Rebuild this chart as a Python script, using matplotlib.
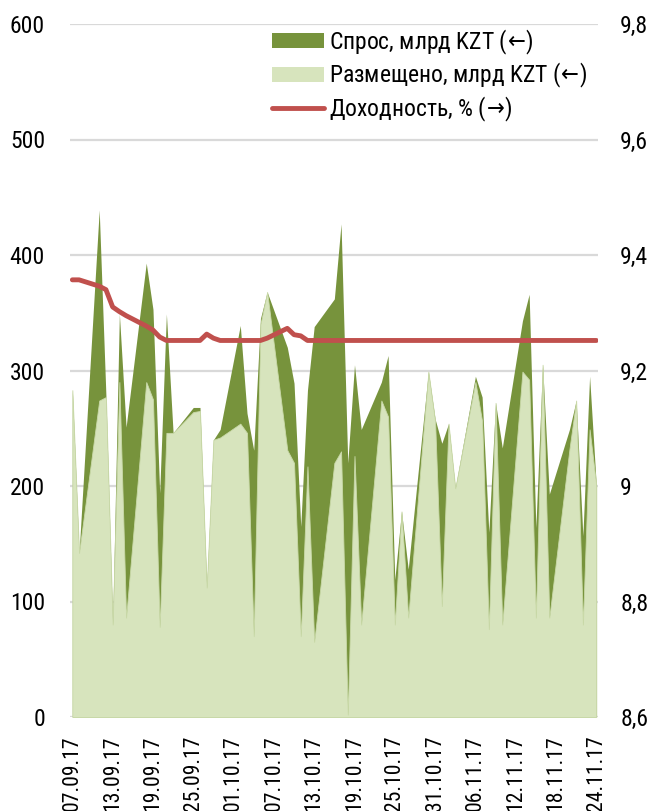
import matplotlib
matplotlib.use("Agg")
import matplotlib.pyplot as plt
import matplotlib.dates as mdates
import matplotlib.font_manager as fm
from matplotlib.ticker import FixedLocator, FuncFormatter
from matplotlib.patches import Patch
from matplotlib.lines import Line2D
from datetime import datetime, timedelta

# ---------------- data ----------------
dates = [
    "07.09.17", "08.09.17", "11.09.17", "12.09.17", "13.09.17", "14.09.17", "15.09.17",
    "18.09.17", "19.09.17", "20.09.17", "21.09.17", "22.09.17", "25.09.17", "26.09.17",
    "27.09.17", "28.09.17", "29.09.17", "02.10.17", "03.10.17", "04.10.17", "05.10.17",
    "06.10.17", "09.10.17", "10.10.17", "11.10.17", "12.10.17", "13.10.17", "16.10.17",
    "17.10.17", "18.10.17", "19.10.17", "20.10.17", "23.10.17", "24.10.17", "25.10.17",
    "26.10.17", "27.10.17", "30.10.17", "31.10.17", "01.11.17", "02.11.17", "03.11.17",
    "06.11.17", "07.11.17", "08.11.17", "09.11.17", "10.11.17", "13.11.17", "14.11.17",
    "15.11.17", "16.11.17", "17.11.17", "20.11.17", "21.11.17", "22.11.17", "23.11.17",
    "24.11.17",
]

demand = [
    283, 142, 439, 278, 80, 349, 251,
    393, 353, 194, 349, 246, 268, 268,
    112, 240, 249, 339, 263, 231, 345,
    368, 320, 289, 165, 283, 338, 362,
    427, 220, 305, 249, 290, 313, 119,
    178, 128, 299, 258, 237, 254, 198,
    295, 277, 160, 272, 233, 343, 366,
    164, 305, 193, 249, 274, 157, 295,
    200,
]

placed = [
    283, 142, 274, 277, 80, 290, 86,
    290, 275, 78, 246, 246, 264, 265,
    112, 240, 242, 254, 246, 70, 340,
    368, 231, 220, 70, 217, 65, 220,
    230, 2, 226, 80, 274, 260, 80,
    178, 86, 299, 256, 96, 254, 198,
    290, 256, 76, 272, 80, 299, 292,
    86, 305, 86, 232, 274, 80, 249,
    200,
]

yield_pct = [
    9.357, 9.357, 9.346, 9.340, 9.310, 9.302, 9.295,
    9.277, 9.270, 9.258, 9.252, 9.252, 9.252, 9.252,
    9.263, 9.256, 9.252, 9.252, 9.252, 9.252, 9.252,
    9.256, 9.273, 9.262, 9.260, 9.252, 9.252, 9.252,
    9.252, 9.252, 9.252, 9.252, 9.252, 9.252, 9.252,
    9.252, 9.252, 9.252, 9.252, 9.252, 9.252, 9.252,
    9.252, 9.252, 9.252, 9.252, 9.252, 9.252, 9.252,
    9.252, 9.252, 9.252, 9.252, 9.252, 9.252, 9.252,
    9.252,
]

legend_labels = [r"Спрос, млрд KZT ($\!\leftarrow\!$)",
                 r"Размещено, млрд KZT ($\!\leftarrow\!$)",
                 r"Доходность, % ($\!\rightarrow\!$)"]

DARK = "#77933C"
LIGHT = "#D7E4BD"
RED = "#C0504D"
GRID = "#D9D9D9"

# ---------------- font: prefer an Arial-Narrow-like face, else Liberation Sans ----------------
family = ['Liberation Sans', 'DejaVu Sans']
stretch = 'normal'
pick = None
files = [f for f in fm.fontManager.ttflist if f.style == 'normal']
for key in ('liberationsansnarrow-regular', 'arialnarrow', 'arial narrow',
            'robotocondensed-regular', 'notosans-condensed.', 'opensans-condensed.',
            'opensanscondensed-regular', 'opensans_condensed-regular'):
    for f in files:
        if key in f.fname.lower().replace(' ', '') or key in f.fname.lower():
            pick = f
            break
    if pick:
        break
if pick is not None:
    family = [pick.name, 'Liberation Sans', 'DejaVu Sans']
    stretch = pick.stretch
plt.rcParams['font.family'] = family
plt.rcParams['font.stretch'] = stretch
plt.rcParams['mathtext.fontset'] = 'dejavusans'

x = [mdates.date2num(datetime.strptime(d, "%d.%m.%y")) for d in dates]

fig = plt.figure(figsize=(6.53, 8.11), dpi=100)
renderer = fig.canvas.get_renderer()


def fit_size(s, target_px, max_pt):
    t = fig.text(0, 0, s, fontsize=10)
    w = t.get_window_extent(renderer).width
    t.remove()
    return min(max_pt, 10.0 * target_px / w)


FS_Y = fit_size("600", 37, 17)
FS_X = fit_size("07.09.17", 75, 17)
FS_L = fit_size(legend_labels[1], 280, 17)

ax = fig.add_axes([70 / 653, 94 / 811, 528 / 653, 693 / 811])

ax.fill_between(x, 0, demand, color=DARK, linewidth=0, zorder=2)
ax.fill_between(x, 0, placed, facecolor=LIGHT, edgecolor="#C9D9A8", linewidth=0.6, zorder=3)

ax.set_ylim(0, 600)
ax.set_yticks(range(0, 601, 100))
ax.set_xlim(x[0] - 0.35, x[-1] + 0.25)
ax.grid(axis="y", color=GRID, linewidth=1.6)
ax.set_axisbelow(True)
for s in ax.spines.values():
    s.set_visible(False)

start = datetime.strptime(dates[0], "%d.%m.%y")
tick_dates = [mdates.date2num(start + timedelta(days=6 * i)) for i in range(14)]
ax.xaxis.set_major_locator(FixedLocator(tick_dates))
ax.xaxis.set_major_formatter(mdates.DateFormatter("%d.%m.%y"))
ax.tick_params(axis="x", length=0, pad=13, labelsize=FS_X, rotation=90)
ax.tick_params(axis="y", length=0, pad=18, labelsize=FS_Y)

ax2 = ax.twinx()
ax2.plot(x, yield_pct, color=RED, linewidth=3.5, solid_capstyle="round",
         solid_joinstyle="round", zorder=5)
ax2.set_ylim(8.6, 9.8)
ax2.set_yticks([8.6, 8.8, 9.0, 9.2, 9.4, 9.6, 9.8])
ax2.yaxis.set_major_formatter(FuncFormatter(lambda v, p: f"{v:g}".replace(".", ",")))
ax2.tick_params(axis="y", length=0, pad=16, labelsize=FS_Y)
for s in ax2.spines.values():
    s.set_visible(False)

fs_px = FS_L * 100 / 72
handles = [
    Patch(facecolor=DARK, edgecolor="none"),
    Patch(facecolor=LIGHT, edgecolor="none"),
    Line2D([0], [0], color=RED, linewidth=3.5, solid_capstyle="round"),
]


def make_legend(spacing, top_px):
    return ax2.legend(handles, legend_labels, loc="upper left",
                      bbox_to_anchor=(272 / 653, 1 - top_px / 811), bbox_transform=fig.transFigure,
                      frameon=False, fontsize=FS_L, handlelength=52 / fs_px,
                      handleheight=0.58, handletextpad=5 / fs_px,
                      labelspacing=spacing, borderpad=0, borderaxespad=0)


spacing = 0.4
top_px = 30
for _ in range(3):
    leg = make_legend(spacing, top_px)
    fig.canvas.draw()
    H = fig.bbox.height
    cy = [H - 0.5 * (t.get_window_extent(renderer).y0 + t.get_window_extent(renderer).y1)
          for t in leg.get_texts()]
    pitch = (cy[2] - cy[0]) / 2
    spacing = max(0.0, spacing + (33.5 - pitch) / fs_px)
    top_px = top_px + (42 - cy[0])
leg = make_legend(spacing, top_px)

fig.savefig("out.png", dpi=100)
